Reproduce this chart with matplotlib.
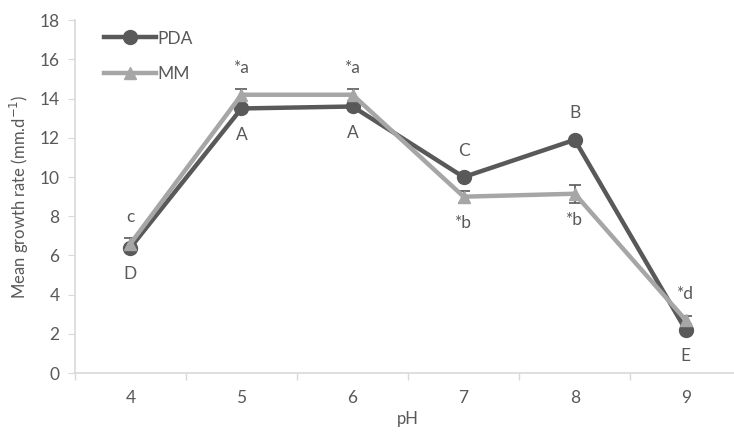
import numpy as np
import matplotlib.pyplot as plt
from matplotlib.lines import Line2D

plt.rcParams['font.family'] = ['Lato', 'DejaVu Sans']

ph = [4, 5, 6, 7, 8, 9]
pda = [6.4, 13.5, 13.6, 10.0, 11.9, 2.2]
mm = [6.6, 14.2, 14.2, 9.0, 9.15, 2.7]
mm_err = [0.3, 0.3, 0.3, 0.3, 0.45, 0.2]
pda_letters = ['D', 'A', 'A', 'C', 'B', 'E']
pda_above = [False, False, False, True, True, False]
mm_letters = ['c', '*a', '*a', '*b', '*b', '*d']
mm_above = [True, True, True, False, False, True]

dark = '#595959'
light = '#a6a6a6'
txt = '#595959'
fs = 12.5

fig = plt.figure(figsize=(7.34, 4.4), dpi=100)
ax = fig.add_axes([0.102, 0.152, 0.908, 0.802])

x = np.arange(len(ph))
ax.plot(x, pda, color=dark, lw=3.2, marker='o', ms=10, zorder=3)
ax.errorbar(x, mm, yerr=mm_err, color=light, lw=3.2, marker='^', ms=9,
            ecolor=dark, elinewidth=1.2, capsize=4, capthick=1.2, zorder=4)

for i in range(len(ph)):
    off = 19 if pda_above[i] else -19
    ax.annotate(pda_letters[i], (x[i], pda[i]), xytext=(0, off),
                textcoords='offset points', ha='center', va='center',
                fontsize=fs, color=txt)
    off = 19 if mm_above[i] else -19
    ax.annotate(mm_letters[i], (x[i], mm[i]), xytext=(0, off),
                textcoords='offset points', ha='center', va='center',
                fontsize=fs, color=txt)

ax.set_xlim(-0.5, 5.5)
ax.set_ylim(0, 18)
ax.set_yticks(range(0, 19, 2))
ax.set_xticks(x)
ax.set_xticklabels([str(p) for p in ph])
ax.set_xticks(np.arange(-0.5, 5.6, 1), minor=True)

for s in ['top', 'right']:
    ax.spines[s].set_visible(False)
for s in ['left', 'bottom']:
    ax.spines[s].set_color('#d9d9d9')
    ax.spines[s].set_linewidth(1.2)
ax.tick_params(axis='x', which='major', length=0, pad=12, labelsize=fs, colors=txt)
ax.tick_params(axis='x', which='minor', length=5, color='#d9d9d9', width=1)
ax.tick_params(axis='y', length=5, color='#d9d9d9', labelsize=fs, colors=txt, pad=6)

ax.set_xlabel('pH', fontsize=fs - 0.5, color=txt, labelpad=4)
ax.set_ylabel('Mean growth rate (mm.d$^{\\mathrm{-1}}$)', fontsize=fs - 0.5,
              color=txt, labelpad=6)

handles = [Line2D([], [], color=dark, lw=3.2, marker='o', ms=10),
           Line2D([], [], color=light, lw=3.2, marker='^', ms=9)]
ax.legend(handles, ['PDA', 'MM'], loc='upper left', bbox_to_anchor=(0.02, 1.015),
          frameon=False, handlelength=3.0, fontsize=fs, labelcolor=txt,
          labelspacing=1.1, handletextpad=0.1)

fig.savefig('out.png', dpi=100)
